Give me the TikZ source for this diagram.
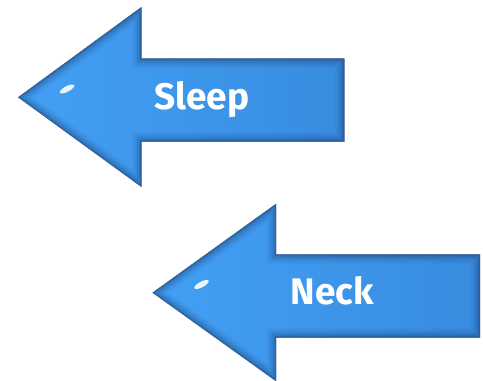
\documentclass[tikz,border=0pt]{standalone}
\usepackage{fontspec}
\setmainfont{Fira Sans}
\definecolor{arrblue}{RGB}{56,140,224}
\definecolor{arrlight}{RGB}{66,160,245}
\definecolor{arrdark}{RGB}{28,62,112}
\tikzset{
  arrowbody/.style={left color=arrlight, right color=arrblue, draw=arrdark!70, line width=0.4pt},
  bevel/.style={draw=arrdark, line join=miter},
  lbl/.style={text=white, font=\fontsize{37}{37}\selectfont\bfseries, inner sep=0pt},
  shine/.style={fill=white, opacity=0.9}
}
\begin{document}
\begin{tikzpicture}[x=1pt,y=1pt]
\useasboundingbox (0,0) rectangle (483,381);
% arrow 1
\coordinate (p1) at (18.3,283.7);
\coordinate (p2) at (141.3,373.7);
\coordinate (p3) at (141.3,322.3);
\coordinate (p4) at (344.3,322.3);
\coordinate (p5) at (344.3,239.3);
\coordinate (p6) at (141.3,239.3);
\coordinate (p7) at (141.3,194.3);
% arrow 2
\coordinate (q1) at (152.7,88.3);
\coordinate (q2) at (276,177);
\coordinate (q3) at (276,126.7);
\coordinate (q4) at (480,126.7);
\coordinate (q5) at (480,43.3);
\coordinate (q6) at (276,43.3);
\coordinate (q7) at (276,0);

\foreach \a in {p,q}{
  \path[arrowbody] (\a1) -- (\a2) -- (\a3) -- (\a4) -- (\a5) -- (\a6) -- (\a7) -- cycle;
  \begin{scope}
    \clip (\a1) -- (\a2) -- (\a3) -- (\a4) -- (\a5) -- (\a6) -- (\a7) -- cycle;
    \foreach \w/\o in {18/0.08,13/0.10,9/0.13,5/0.17,2.5/0.25}{
      \draw[bevel, line width=\w, opacity=\o] (\a1) -- (\a2) -- (\a3) -- (\a4) -- (\a5) -- (\a6) -- (\a7) -- cycle;
    }
  \end{scope}
}
\fill[shine] (67,292) ellipse [x radius=8, y radius=2.8, rotate=28];
\fill[shine] (201.5,96.5) ellipse [x radius=8, y radius=2.8, rotate=28];

\node[lbl, anchor=base west] (sleep) at (154.3,271) {Sleep};
\node[lbl, anchor=base west] (neck) at (290.7,76.7) {Neck};
\end{tikzpicture}
\end{document}
